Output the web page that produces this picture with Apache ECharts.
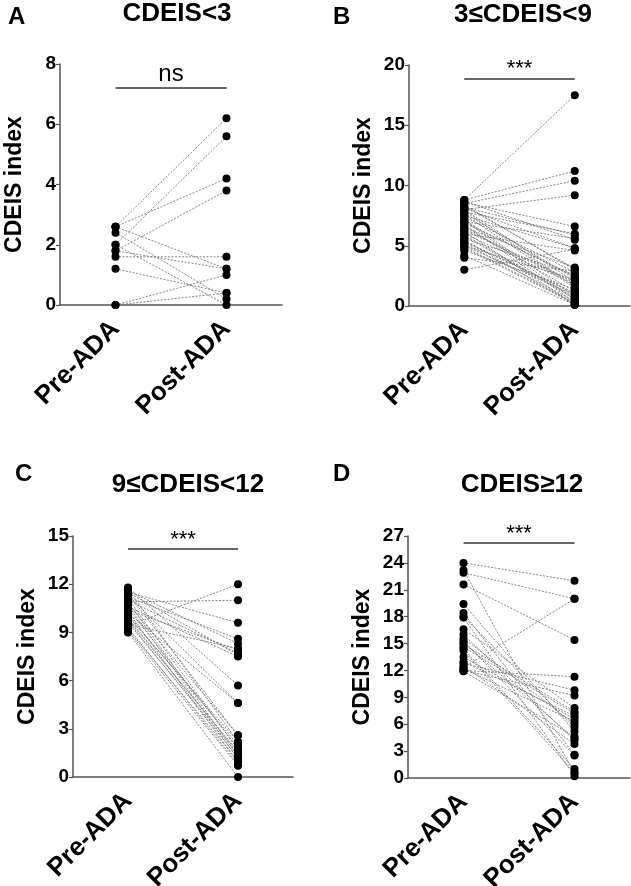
<!DOCTYPE html>
<html><head><meta charset="utf-8">
<script src="https://cdn.jsdelivr.net/npm/echarts@6/dist/echarts.min.js"></script>
<style>html,body{margin:0;padding:0;background:#fff}#c{width:631px;height:886px}</style>
</head><body><div id="c"></div>
<script>
const groups = ['Pre-ADA', 'Post-ADA'];
const yName = 'CDEIS index';
const titles = ['CDEIS<3', '3≤CDEIS<9', '9≤CDEIS<12', 'CDEIS≥12'];
const letters = ['A', 'B', 'C', 'D'];
const sigTexts = ['ns', '***', '***', '***'];
const sigLevels = [7.2, 18.9, 14.2, 26.2];
const yMax = [8, 20, 15, 27];
const yStep = [2, 5, 3, 3];

// Panel A (CDEIS<3)
const aPre  = [2.6, 2.0, 2.6, 1.8, 2.6, 2.4, 2.0, 1.6, 1.8, 1.2, 0.0, 0.0];
const aPost = [6.2, 5.6, 4.2, 3.8, 1.2, 0.2, 0.0, 1.6, 1.2, 0.4, 1.0, 0.4];
// Panel B (3≤CDEIS<9)
const bPre  = [8.8, 8.8, 8.6, 8.5, 8.4, 8.2, 8.0, 8.0, 7.8, 7.6, 7.5, 7.4, 7.2, 7.0, 7.0, 6.8, 6.6, 6.5, 6.4, 6.2, 6.0, 6.0, 5.8, 5.6, 5.5, 5.4, 5.2, 5.0, 5.0, 4.8, 4.6, 4.2, 4.0, 3.0, 8.7, 8.3, 7.9, 7.1, 6.9, 6.3, 5.9, 5.3, 4.9, 8.1, 7.7];
const bPost = [17.5, 11.2, 6.6, 10.4, 3.0, 5.9, 9.2, 2.0, 6.0, 1.5, 4.8, 2.8, 0.8, 5.6, 2.4, 0.3, 1.2, 3.2, 2.0, 0.1, 4.6, 1.8, 0.6, 2.6, 0.1, 1.0, 0.4, 2.2, 0.9, 0.2, 1.4, 0.1, 2.9, 4.7, 5.5, 3.1, 1.6, 0.5, 2.5, 1.9, 0.7, 1.1, 0.3, 4.8, 2.3];
// Panel C (9≤CDEIS<12)
const cPre  = [9.4, 10.9, 11.5, 11.2, 11.6, 10.4, 11.0, 10.6, 9.5, 11.8, 11.3, 10.2, 11.4, 11.7, 10.8, 10.5, 10.1, 9.9, 9.7, 9.6, 9.3, 9.2, 9.0, 11.1, 10.7, 10.3, 10.0, 9.8, 9.1, 11.5, 10.9];
const cPost = [12.0, 11.0, 9.6, 8.6, 8.3, 7.9, 7.7, 7.5, 8.0, 5.7, 4.6, 4.6, 2.6, 2.2, 2.6, 1.8, 2.0, 1.5, 1.2, 1.4, 0.8, 1.0, 0.0, 1.7, 1.1, 0.9, 2.2, 1.6, 0.7, 7.6, 1.3];
// Panel D (CDEIS≥12)
const dPre  = [24.0, 22.9, 23.2, 21.6, 12.3, 12.0, 12.8, 19.4, 18.4, 17.9, 16.6, 15.6, 15.1, 14.6, 14.2, 13.5, 12.0, 11.9, 15.3, 14.9, 18.0, 13.0, 12.5, 14.4, 16.0, 12.2];
const dPost = [22.0, 20.0, 0.5, 15.4, 20.0, 11.3, 9.8, 5.2, 2.6, 0.2, 7.8, 6.0, 4.4, 7.2, 0.6, 6.6, 9.2, 4.6, 2.5, 7.4, 5.6, 6.9, 3.8, 1.0, 4.2, 6.3];

const pres = [aPre, bPre, cPre, dPre];
const posts = [aPost, bPost, cPost, dPost];

// layout
const FONT = '"Liberation Sans", Arial, sans-serif';
const grids = [
  {left: 60, top: 64, width: 222, height: 241, outerBoundsMode: 'none', containLabel: false},
  {left: 409, top: 65, width: 221, height: 241, outerBoundsMode: 'none', containLabel: false},
  {left: 73, top: 536, width: 220, height: 241, outerBoundsMode: 'none', containLabel: false},
  {left: 408, top: 536, width: 222, height: 242, outerBoundsMode: 'none', containLabel: false}
];
const letterPos = [[8, 18], [333, 18], [15, 475], [333, 475]];
const titlePos = [[177, 14], [523, 15], [188, 485], [522, 485]];

const AX = '#555';
const option = {
  animation: false,
  textStyle: {fontFamily: FONT},
  grid: grids,
  xAxis: grids.map((g, k) => ({
    type: 'category', gridIndex: k, data: groups, boundaryGap: true,
    axisLine: {lineStyle: {color: AX, width: 1.5}},
    axisTick: {alignWithLabel: true, length: 4, lineStyle: {color: AX, width: 1.2}},
    axisLabel: {interval: 0, rotate: 45, fontSize: 26, fontWeight: 'bold', color: '#000', fontFamily: FONT, margin: 20}
  })),
  yAxis: grids.map((g, k) => ({
    type: 'value', gridIndex: k, min: 0, max: yMax[k], interval: yStep[k],
    axisLine: {show: true, lineStyle: {color: AX, width: 1.5}},
    axisTick: {show: true, length: 4, lineStyle: {color: AX, width: 1.2}},
    splitLine: {show: false},
    axisLabel: {fontSize: 19, fontWeight: 'bold', color: '#000', fontFamily: FONT, margin: 4},
    name: yName, nameLocation: 'middle', nameGap: 34,
    nameTextStyle: {fontSize: 23, fontWeight: 'bold', color: '#000', fontFamily: FONT}
  })),
  series: [],
  graphic: []
};

for (let k = 0; k < 4; k++) {
  const pre = pres[k], post = posts[k];
  for (let i = 0; i < pre.length; i++) {
    option.series.push({
      type: 'line', xAxisIndex: k, yAxisIndex: k, silent: true,
      data: [pre[i], post[i]], showSymbol: false, symbol: 'none', z: 2,
      lineStyle: {color: '#777', width: 0.9, type: [2, 1.5]}
    });
  }
  const pts = pre.map(v => [groups[0], v]).concat(post.map(v => [groups[1], v]));
  option.series.push({
    type: 'scatter', xAxisIndex: k, yAxisIndex: k, silent: true, z: 5,
    data: pts, symbolSize: 8, itemStyle: {color: '#000', opacity: 1},
    markLine: {
      silent: true, symbol: 'none', animation: false,
      lineStyle: {color: '#333', width: 1.5, type: 'solid'},
      label: {show: true, position: 'middle', formatter: sigTexts[k], color: '#000',
        fontSize: k === 0 ? 24 : 22, fontFamily: FONT, distance: k === 0 ? 2 : -2},
      data: [[{coord: [groups[0], sigLevels[k]]}, {coord: [groups[1], sigLevels[k]]}]]
    }
  });
  option.graphic.push({
    type: 'text', left: letterPos[k][0], top: letterPos[k][1] - 13,
    style: {text: letters[k], font: 'bold 24px ' + FONT, fill: '#000'}
  });
  option.graphic.push({
    type: 'text', x: titlePos[k][0], y: titlePos[k][1],
    style: {text: titles[k], font: 'bold 26px ' + FONT, fill: '#000', textAlign: 'center', textVerticalAlign: 'middle'}
  });
}

const chart = echarts.init(document.getElementById('c'), null, {renderer: 'canvas'});
chart.setOption(option);
</script>
</body></html>
